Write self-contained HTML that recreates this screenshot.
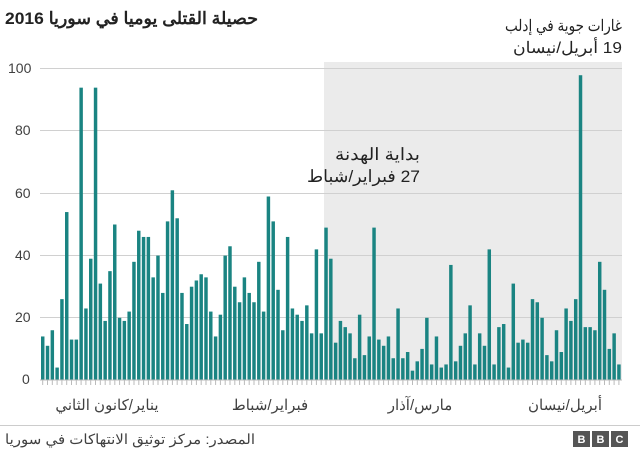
<!DOCTYPE html>
<html><head><meta charset="utf-8"><style>
body{margin:0;background:#fff;width:640px;height:454px;overflow:hidden;font-family:"Liberation Sans","Noto Sans CJK SC",sans-serif;}
</style></head><body>
<svg width="640" height="454" xmlns="http://www.w3.org/2000/svg" font-family="Liberation Sans, Noto Sans CJK SC, sans-serif">
<rect x="324" y="62" width="298" height="318" fill="#ebebeb"/>
<g stroke="#d0d0d0" stroke-width="1">
<line x1="40" y1="68.5" x2="622" y2="68.5"/><line x1="40" y1="130.5" x2="622" y2="130.5"/>
<line x1="40" y1="193.5" x2="622" y2="193.5"/><line x1="40" y1="255.5" x2="622" y2="255.5"/>
<line x1="40" y1="317.5" x2="622" y2="317.5"/>
</g>
<g font-size="14" fill="#404040">
<text x="8" y="73">100</text><text x="15" y="135">80</text><text x="15" y="198">60</text>
<text x="15" y="260">40</text><text x="15" y="322">20</text><text x="22" y="384">0</text>
</g>
<g id="bars" fill="#1a8482"></g>
<line x1="40" y1="380" x2="622" y2="380" stroke="#bbb"/>
<g id="ticks" stroke="#bbb"></g>
<g font-size="15" fill="#404040" text-anchor="middle">
<text x="107" y="410">يناير/كانون الثاني</text>
<text x="270" y="410">فبراير/شباط</text>
<text x="420" y="410">مارس/آذار</text>
<text x="565" y="410">أبريل/نيسان</text>
</g>
<text x="258" y="24" font-size="17" font-weight="bold" fill="#222" text-anchor="start" direction="rtl" textLength="253" lengthAdjust="spacingAndGlyphs">حصيلة القتلى يوميا في سوريا 2016</text>
<text x="622" y="31" font-size="16" fill="#222" text-anchor="start" direction="rtl" textLength="117" lengthAdjust="spacingAndGlyphs">غارات جوية في إدلب</text>
<text x="622" y="53" font-size="16" fill="#222" text-anchor="start" direction="rtl" textLength="109" lengthAdjust="spacingAndGlyphs">19 أبريل/نيسان</text>
<text x="420" y="160" font-size="17" fill="#222" text-anchor="start" direction="rtl" textLength="85" lengthAdjust="spacingAndGlyphs">بداية الهدنة</text>
<text x="420" y="182" font-size="17" fill="#222" text-anchor="start" direction="rtl" textLength="113" lengthAdjust="spacingAndGlyphs">27 فبراير/شباط</text>
<line x1="0" y1="425.5" x2="640" y2="425.5" stroke="#ccc"/>
<text x="255" y="444" font-size="14" fill="#404040" text-anchor="start" direction="rtl" textLength="250" lengthAdjust="spacingAndGlyphs">المصدر: مركز توثيق الانتهاكات في سوريا</text>
<g font-size="11" font-weight="bold" fill="#fff" text-anchor="middle">
<rect x="573" y="431" width="17" height="16" fill="#555"/><text x="581.5" y="443">B</text>
<rect x="592" y="431" width="17" height="16" fill="#555"/><text x="600.5" y="443">B</text>
<rect x="611" y="431" width="17" height="16" fill="#555"/><text x="619.5" y="443">C</text>
</g>
</svg>
<script>
var v=[14,11,16,4,26,54,13,13,94,23,39,94,31,19,35,50,20,19,22,38,48,46,46,33,40,28,51,61,52,28,18,
30,32,34,33,22,14,21,40,43,30,25,33,28,25,38,22,59,51,29,16,46,23,21,19,24,15,42,15,49,
39,12,19,17,15,7,21,8,14,49,13,11,14,7,23,7,9,3,6,10,20,5,14,4,5,37,6,11,15,24,5,
15,11,42,5,17,18,4,31,12,13,12,26,25,20,8,6,16,9,23,19,26,98,17,17,16,38,29,10,15,5];
var n=v.length,p=581/n,b=document.getElementById('bars'),t=document.getElementById('ticks'),ns="http://www.w3.org/2000/svg";
for(var i=0;i<n;i++){var h=v[i]*3.11,x=41+i*p;var r=document.createElementNS(ns,'rect');
r.setAttribute('x',x.toFixed(2));r.setAttribute('y',(380-h).toFixed(2));r.setAttribute('width',(p*0.72).toFixed(2));r.setAttribute('height',h.toFixed(2));b.appendChild(r);
var l=document.createElementNS(ns,'line');var cx=(x+p*0.36).toFixed(1);l.setAttribute('x1',cx);l.setAttribute('x2',cx);l.setAttribute('y1',380);l.setAttribute('y2',385);t.appendChild(l);}
</script>
</body></html>
